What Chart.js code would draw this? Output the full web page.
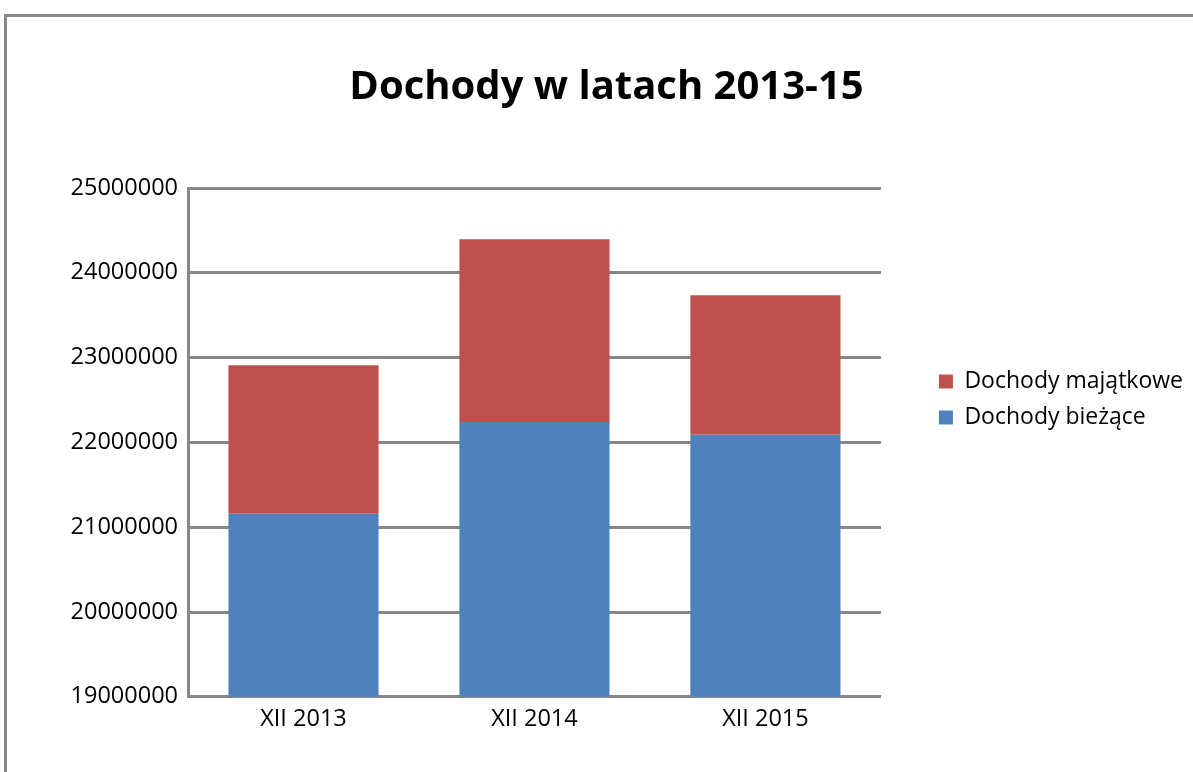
<!DOCTYPE html>
<html>
<head>
<meta charset="utf-8">
<script src="https://cdn.jsdelivr.net/npm/chart.js@4/dist/chart.umd.min.js"></script>
<style>
  html, body { margin: 0; padding: 0; background: #fff; overflow: hidden; }
  #wrap { position: relative; width: 1193px; height: 772px; }
  #frame {
    position: absolute; left: 4px; top: 14px; width: 1300px; height: 900px;
    border: 3px solid #878787; pointer-events: none;
  }
</style>
</head>
<body>
<div id="wrap">
  <canvas id="myChart" width="1193" height="772"></canvas>
  <div id="frame"></div>
</div>
<script>
const categories = ["XII 2013", "XII 2014", "XII 2015"];
const biezace = [21160000, 22240000, 22090000];
const majatkowe = [1750000, 2155000, 1645000];
const yMin = 19000000;
const yMax = 25000000;
const yStep = 1000000;

const gridGray = "#878787";
const font = "'Open Sans', 'DejaVu Sans', sans-serif";

// keeps an empty strip between the plot and the legend, and nudges the legend down a bit
const legendGap = 45;
const legendShift = 13;
const legendGapPlugin = {
	id: "legendGap",
	beforeLayout(chart) {
		const lg = chart.legend;
		if (lg && !lg._gapPatched) {
			const fit = lg.fit;
			lg.fit = function () {
				fit.call(this);
				this.width += legendGap;
			};
			lg._gapPatched = true;
		}
	},
	afterLayout(chart) {
		const lg = chart.legend;
		if (!lg) return;
		lg.left += legendGap;
		lg.width -= legendGap;
		lg.top += legendShift;
		lg.bottom += legendShift;
	},
};

const ctx = document.getElementById("myChart").getContext("2d");

new Chart(ctx, {
	type: "bar",
	data: {
		labels: categories,
		datasets: [
			{
				label: "Dochody bieżące",
				data: biezace,
				backgroundColor: "#4F81BD",
				borderWidth: 0,
			},
			{
				label: "Dochody majątkowe",
				data: majatkowe,
				backgroundColor: "#C0504D",
				borderWidth: 0,
			}
		]
	},
	options: {
		responsive: false,
		animation: false,
		layout: { padding: { left: 20, top: 40, right: 0, bottom: 39 } },
		datasets: { bar: { categoryPercentage: 1, barPercentage: 0.65 } },
		plugins: {
			tooltip: { enabled: false },
			title: {
				display: true,
				text: "Dochody w latach 2013-15",
				color: "#000",
				font: { family: font, size: 40, weight: "bold" },
				padding: { top: 24, bottom: 76 },
			},
			legend: {
				position: "right",
				reverse: true,
				labels: {
					color: "#000",
					boxWidth: 14,
					boxHeight: 14,
					padding: 13,
					font: { family: font, size: 23 },
				},
			},
		},
		scales: {
			x: {
				stacked: true,
				grid: { display: false },
				border: { display: true, color: gridGray, width: 3 },
				ticks: { color: "#000", padding: 0, font: { family: font, size: 23.5 } },
			},
			y: {
				stacked: true,
				min: yMin,
				max: yMax,
				grid: { color: gridGray, lineWidth: 3, drawTicks: false },
				border: { display: true, color: gridGray, width: 3 },
				afterFit: (scale) => { scale.width = 168; },
				ticks: {
					stepSize: yStep,
					color: "#000",
					padding: 10,
					font: { family: font, size: 23.5 },
					callback: (v) => String(v),
				},
			},
		},
	},
	plugins: [legendGapPlugin],
});
</script>
</body>
</html>
